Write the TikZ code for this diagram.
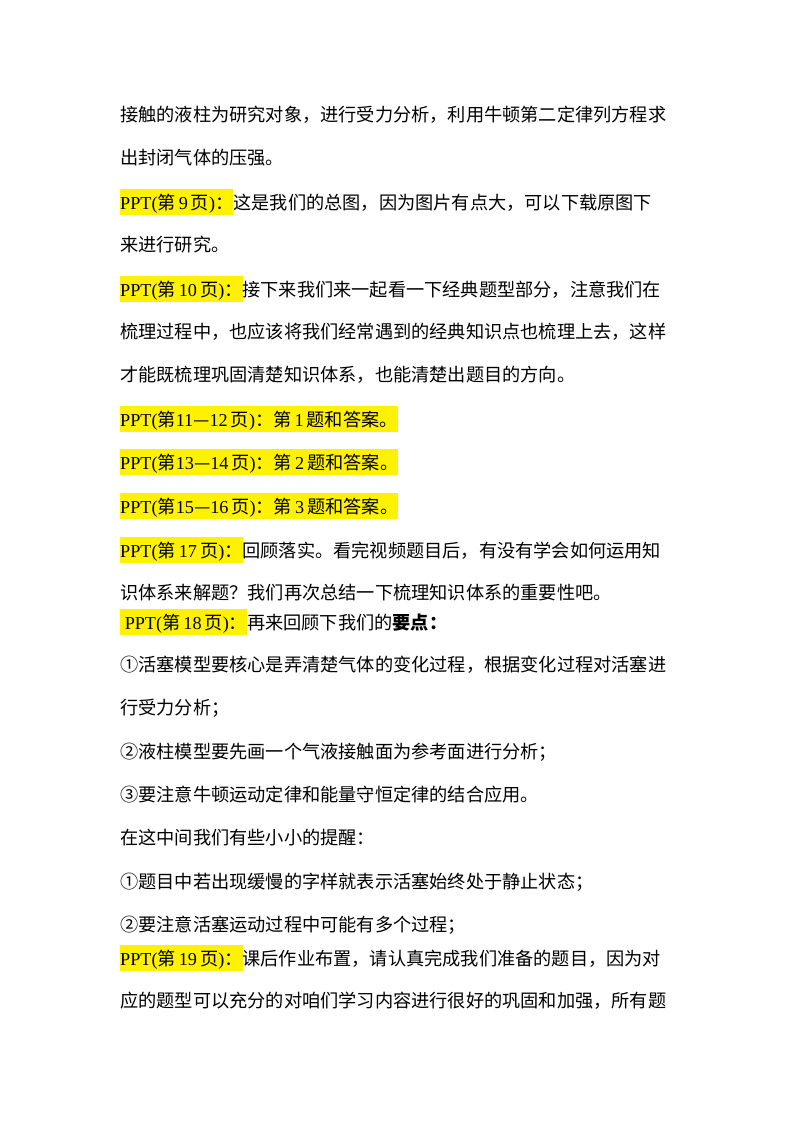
\documentclass[tikz,border=0pt]{standalone}
\usepackage{fontspec}
\usepackage{xcolor}
\setmainfont{Noto Sans CJK SC}
\newfontfamily\lat{Liberation Serif}
\newcommand{\hlx}[1]{{\setlength{\fboxsep}{0pt}\colorbox{yellow}{\rule[-6pt]{0pt}{26pt}#1}}}
\newcommand{\ppt}[1]{{\lat PPT(}第{\lat #1}页{\lat )}：}
\begin{document}
\begin{tikzpicture}[x=1pt,y=-1pt,
  ln/.style={anchor=west,inner sep=0pt,font=\fontsize{18.2}{20}\selectfont}]
\useasboundingbox (0,0) rectangle (800,1132);
\node[ln] (l1) at (120,115) {接触的液柱为研究对象，进行受力分析，利用牛顿第二定律列方程求};
\node[ln] (l2) at (120,158) {出封闭气体的压强。};
\node[ln] (l3) at (120,202) {\hlx{{\lat PPT(}第{\lat\,9\,}页{\lat )}：}这是我们的总图，因为图片有点大，可以下载原图下};
\node[ln] (l4) at (120,245) {来进行研究。};
\node[ln] (l5) at (120,289) {\hlx{{\lat PPT(}第{\lat\,10\,}页{\lat )}：}接下来我们来一起看一下经典题型部分，注意我们在};
\node[ln] (l6) at (120,332) {梳理过程中，也应该将我们经常遇到的经典知识点也梳理上去，这样};
\node[ln] (l7) at (120,375) {才能既梳理巩固清楚知识体系，也能清楚出题目的方向。};
\node[ln] (l8) at (120,419) {\hlx{{\lat PPT(}第{\lat 11}—{\lat 12\,}页{\lat )}：第{\lat\,1\,}题和答案。}};
\node[ln] (l9) at (120,462) {\hlx{{\lat PPT(}第{\lat 13}—{\lat 14\,}页{\lat )}：第{\lat\,2\,}题和答案。}};
\node[ln] (l10) at (120,506) {\hlx{{\lat PPT(}第{\lat 15}—{\lat 16\,}页{\lat )}：第{\lat\,3\,}题和答案。}};
\node[ln] (l11) at (120,550) {\hlx{{\lat PPT(}第{\lat\,17\,}页{\lat )}：}回顾落实。看完视频题目后，有没有学会如何运用知};
\node[ln] (l12) at (120,593) {识体系来解题？我们再次总结一下梳理知识体系的重要性吧。};
\node[ln] (l13) at (120,622) {\hlx{{\lat\ PPT(}第{\lat\,18\,}页{\lat )}：}再来回顾下我们的\textbf{要点：}};
\node[ln] (l14) at (120,665) {①活塞模型要核心是弄清楚气体的变化过程，根据变化过程对活塞进};
\node[ln] (l15) at (120,708) {行受力分析；};
\node[ln] (l16) at (120,752) {②液柱模型要先画一个气液接触面为参考面进行分析；};
\node[ln] (l17) at (120,795) {③要注意牛顿运动定律和能量守恒定律的结合应用。};
\node[ln] (l18) at (120,838) {在这中间我们有些小小的提醒：};
\node[ln] (l19) at (120,882) {①题目中若出现缓慢的字样就表示活塞始终处于静止状态；};
\node[ln] (l20) at (120,925) {②要注意活塞运动过程中可能有多个过程；};
\node[ln] (l21) at (120,958) {\hlx{{\lat PPT(}第{\lat\,19\,}页{\lat )}：}课后作业布置，请认真完成我们准备的题目，因为对};
\node[ln] (l22) at (120,1001) {应的题型可以充分的对咱们学习内容进行很好的巩固和加强，所有题};
\end{tikzpicture}
\end{document}
